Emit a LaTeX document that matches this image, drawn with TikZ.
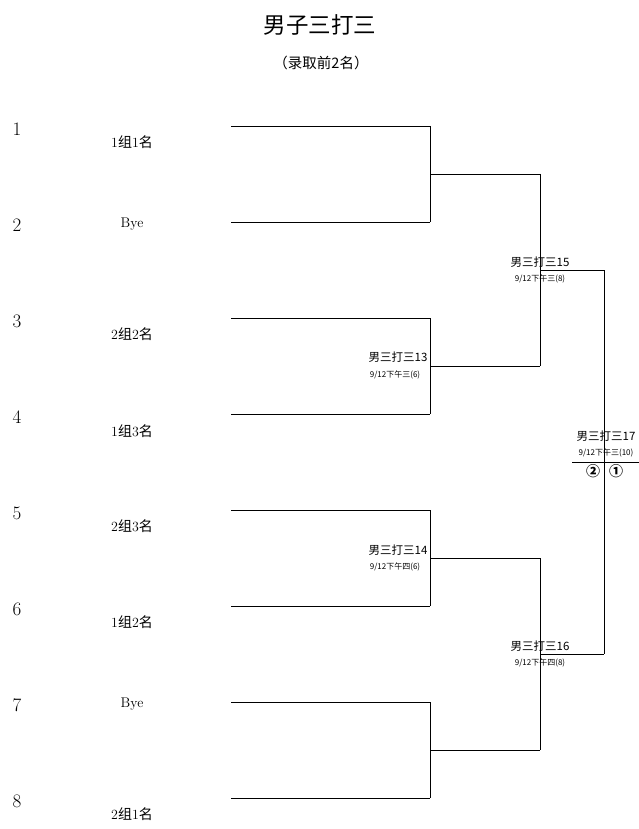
\documentclass[tikz,border=0pt]{standalone}
\usepackage{fontspec}
\newfontfamily\cjk{Noto Sans CJK SC}
\usepackage{tikz}

\begin{document}
\begin{tikzpicture}[x=1pt,y=-1pt,line width=0.8pt,
			seed node/.style={font=\fontsize{19}{19}\selectfont},
			team node/.style={font=\fontsize{14}{15}\selectfont},
			match node/.style={font=\cjk\fontsize{11.5}{12}\selectfont,inner sep=0pt},
			date node/.style={font=\cjk\fontsize{8}{8}\selectfont,inner sep=0pt}
			]
			
			\def \top {126};
			\def \gap {96};
			
			\useasboundingbox (0,0) rectangle (639,829);
			
			\node[font=\cjk\fontsize{22.5}{24}\selectfont] (title) at (320,25) {男子三打三};
			\node[font=\cjk\fontsize{14.5}{16}\selectfont] (sub) at (321,63) {（录取前2名）};
			
			\foreach \s/\t/\d in {1/{1{\cjk 组}1{\cjk 名}}/16, 2/Bye/2, 3/{2{\cjk 组}2{\cjk 名}}/16, 4/{1{\cjk 组}3{\cjk 名}}/17,
				5/{2{\cjk 组}3{\cjk 名}}/16, 6/{1{\cjk 组}2{\cjk 名}}/16, 7/Bye/2, 8/{2{\cjk 组}1{\cjk 名}}/16} {
				\pgfmathsetmacro\y{\top+\gap*(\s-1)}
				\node[seed node] (n\s) at (17,\y+3) {\s};
				\node[team node] (t\s) at (132,\y+\d) {\t};
				\coordinate (a\s) at (231,\y);
				\coordinate (b\s) at (430,\y);
				\draw (a\s) -- (b\s);
			}
			
			\coordinate (c1) at (540,174);
			\coordinate (c2) at (540,366);
			\coordinate (c3) at (540,558);
			\coordinate (c4) at (540,750);
			\coordinate (d1) at (604,270);
			\coordinate (d2) at (604,654);
			\coordinate (w1) at (572,462);
			\coordinate (w2) at (639,462);
			
			\draw (b1) -- (b2) (b1 |- c1) -- (c1);
			\draw (b3) -- (b4) (b3 |- c2) -- (c2);
			\draw (b5) -- (b6) (b5 |- c3) -- (c3);
			\draw (b7) -- (b8) (b7 |- c4) -- (c4);
			\draw (c1) -- (c2) (c1 |- d1) -- (d1);
			\draw (c3) -- (c4) (c3 |- d2) -- (d2);
			\draw (d1) -- (d2);
			\draw (w1) -- (w2);
			
			\node[match node] (m13) at (398,357) {男三打三13};
			\node[date node] (g13) at (395,375) {9/12下午三(6)};
			\node[match node] (m14) at (398,550) {男三打三14};
			\node[date node] (g14) at (395,567) {9/12下午四(6)};
			\node[match node] (m15) at (540,262) {男三打三15};
			\node[date node] (g15) at (540,279) {9/12下午三(8)};
			\node[match node] (m16) at (540,646) {男三打三16};
			\node[date node] (g16) at (540,663) {9/12下午四(8)};
			\node[match node] (m17) at (606,436) {男三打三17};
			\node[date node] (g17) at (606,453) {9/12下午三(10)};
			
			\node[font=\cjk\fontsize{14}{14}\selectfont\bfseries,inner sep=0pt] (r2) at (593,471) {②};
			\node[font=\cjk\fontsize{14}{14}\selectfont\bfseries,inner sep=0pt] (r1) at (616,471) {①};
			
\end{tikzpicture}
\end{document}
